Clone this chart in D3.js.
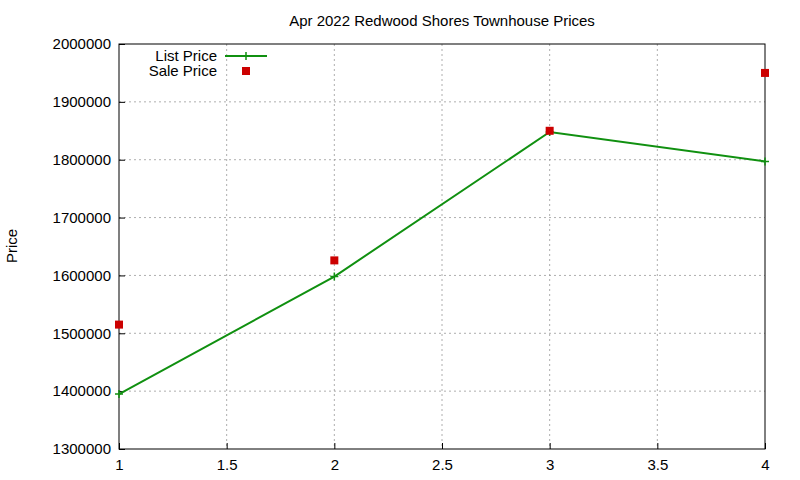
<!DOCTYPE html>
<html>
<head>
<meta charset="utf-8">
<script src="https://cdn.jsdelivr.net/npm/d3@7"></script>
<style>
  body { margin: 0; background: #fff; }
  text { font-family: "Liberation Sans", Arial, sans-serif; }
</style>
</head>
<body>
<script>
// data
const months = [1, 2, 3, 4];
const listPrice = [1395000, 1598000, 1848000, 1797000];
const salePrice = [1515000, 1626000, 1850000, 1950000];
const xTicks = [1, 1.5, 2, 2.5, 3, 3.5, 4];
const yTicks = [1300000, 1400000, 1500000, 1600000, 1700000, 1800000, 1900000, 2000000];

const W = 800, H = 480;
const m = { left: 119, right: 35, top: 44, bottom: 31 };

let svg = d3.select('body').append('svg')
    .attr('width', W)
    .attr('height', H);

let x = d3.scaleLinear().domain([1, 4]).range([m.left, W - m.right]);
let y = d3.scaleLinear().domain([1300000, 2000000]).range([H - m.bottom, m.top]);

// grid
svg.append('g').selectAll('line').data(xTicks.slice(1, -1)).join('line')
    .attr('x1', d => x(d)).attr('x2', d => x(d))
    .attr('y1', m.top).attr('y2', H - m.bottom)
    .attr('stroke', '#999').attr('stroke-dasharray', '2,3').attr('stroke-width', 0.8);
svg.append('g').selectAll('line').data(yTicks.slice(1, -1)).join('line')
    .attr('x1', m.left).attr('x2', W - m.right)
    .attr('y1', d => y(d)).attr('y2', d => y(d))
    .attr('stroke', '#999').attr('stroke-dasharray', '2,3').attr('stroke-width', 0.8);

// axes
let xAxis = svg.append('g')
    .attr('transform', `translate(0,${H - m.bottom})`)
    .call(d3.axisBottom(x).tickValues(xTicks).tickSize(-6).tickSizeOuter(0)
        .tickFormat(d3.format('~g')).tickPadding(10));
let yAxis = svg.append('g')
    .attr('transform', `translate(${m.left},0)`)
    .call(d3.axisLeft(y).tickValues(yTicks).tickSize(-6).tickSizeOuter(0).tickFormat(d3.format('d')).tickPadding(8));
[xAxis, yAxis].forEach(a => {
    a.selectAll('text').attr('font-size', 15).attr('fill', '#000')
        .style('font-family', '"Liberation Sans", Arial, sans-serif');
    a.select('.domain').remove();
});

svg.append('rect')
    .attr('x', m.left).attr('y', m.top)
    .attr('width', W - m.left - m.right).attr('height', H - m.top - m.bottom)
    .attr('fill', 'none').attr('stroke', '#000');

// title and label
svg.append('text').attr('x', (m.left + W - m.right) / 2).attr('y', 26)
    .attr('text-anchor', 'middle').attr('font-size', 15)
    .text('Apr 2022 Redwood Shores Townhouse Prices');
svg.append('text').attr('transform', 'translate(17,246) rotate(-90)')
    .attr('text-anchor', 'middle').attr('font-size', 15).text('Price');

// list price line
const green = '#109010';
svg.append('path')
    .datum(months.map((d, i) => [d, listPrice[i]]))
    .attr('fill', 'none').attr('stroke', green).attr('stroke-width', 2)
    .attr('d', d3.line().x(d => x(d[0])).y(d => y(d[1])));
let plus = (g, cx, cy) => g.append('path')
    .attr('d', `M${cx - 4},${cy}H${cx + 4}M${cx},${cy - 4}V${cy + 4}`)
    .attr('stroke', green).attr('stroke-width', 1.5);
months.forEach((d, i) => plus(svg, x(d), y(listPrice[i])));

// sale price points
const red = '#cc0000';
svg.append('g').selectAll('rect').data(months).join('rect')
    .attr('x', d => x(d) - 4).attr('y', (d, i) => y(salePrice[i]) - 4)
    .attr('width', 8).attr('height', 8).attr('fill', red);

// legend
svg.append('text').attr('x', 217).attr('y', 61).attr('text-anchor', 'end').attr('font-size', 15).text('List Price');
svg.append('line').attr('x1', 225).attr('x2', 267).attr('y1', 56).attr('y2', 56)
    .attr('stroke', green).attr('stroke-width', 2);
plus(svg, 246, 56);
svg.append('text').attr('x', 217).attr('y', 76).attr('text-anchor', 'end').attr('font-size', 15).text('Sale Price');
svg.append('rect').attr('x', 242).attr('y', 67).attr('width', 8).attr('height', 8).attr('fill', red);
</script>
</body>
</html>
